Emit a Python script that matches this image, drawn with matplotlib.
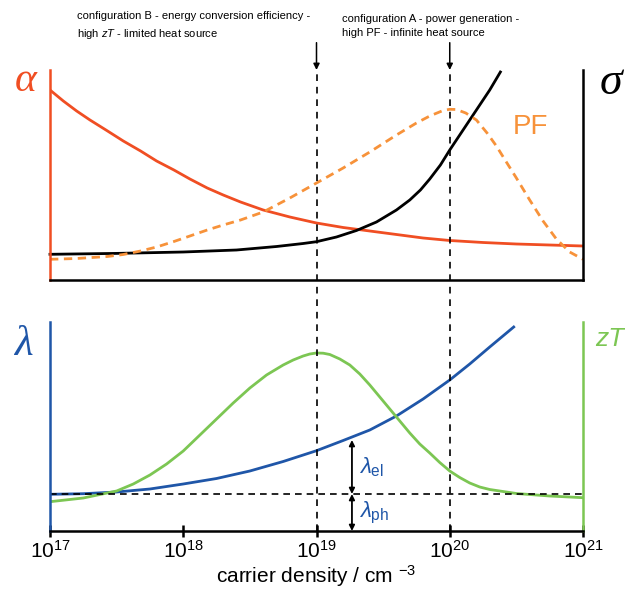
import matplotlib
matplotlib.use("Agg")
import matplotlib.pyplot as plt
import numpy as np

plt.rcParams['font.family'] = ['Liberation Sans', 'DejaVu Sans']
plt.rcParams['mathtext.fontset'] = 'custom'
plt.rcParams['mathtext.rm'] = 'Liberation Sans'
plt.rcParams['mathtext.it'] = 'Liberation Sans:italic'
plt.rcParams['mathtext.bf'] = 'Liberation Sans:bold'

# ---------------- data (log10 of carrier density, arbitrary units) ----------------
alpha_logn = [17.0, 17.1, 17.2, 17.3, 17.42, 17.55, 17.68, 17.8, 17.93, 18.05, 18.18, 18.3,
              18.43, 18.6, 18.8, 19.0, 19.2, 19.4, 19.6, 19.8, 20.0, 20.25, 20.5, 20.75, 21.0]
alpha_val = [190, 179, 169, 160, 150, 139, 129, 119, 110, 101, 92, 85,
             78, 70, 63, 57, 52.5, 49, 45.5, 42, 39.5, 37.5, 36, 35, 34]

sigma_logn = [17.0, 17.5, 18.0, 18.4, 18.7, 18.9, 19.0, 19.15, 19.3, 19.45, 19.6, 19.7,
              19.78, 19.85, 19.93, 20.0, 20.1, 20.2, 20.3, 20.38]
sigma_val = [25.7, 26.6, 28, 30, 33.5, 36.5, 38.3, 43, 49.5, 58, 70, 80,
             90, 101, 115, 130, 150, 170, 190, 208]

pf_logn = [17.0, 17.2, 17.43, 17.55, 17.68, 17.8, 17.93, 18.05, 18.18, 18.3, 18.43, 18.6,
           18.8, 19.0, 19.2, 19.4, 19.6, 19.75, 19.85, 19.95, 20.0, 20.05, 20.12, 20.2,
           20.28, 20.35, 20.42, 20.5, 20.6, 20.7, 20.8, 20.9, 21.0]
pf_val = [20.7, 21.5, 23.5, 25.5, 29, 33, 38.5, 44, 50, 55, 60, 68,
          82, 97, 112, 128, 145, 157, 164, 169.5, 170.7, 170.5, 167, 160,
          147, 134, 119, 102, 80, 59, 41, 28, 20.7]

lam_logn = [17.0, 17.25, 17.5, 17.75, 18.0, 18.25, 18.5, 18.75, 19.0, 19.2, 19.4, 19.6,
            19.8, 20.0, 20.15, 20.3, 20.48]
lam_val = [36.7, 37.3, 39, 42, 47, 52.5, 60, 69.5, 80.3, 90.5, 101, 115,
           132, 151, 167, 184, 204]

zt_logn = [17.0, 17.25, 17.5, 17.625, 17.75, 17.875, 18.0, 18.125, 18.25, 18.375, 18.5,
           18.625, 18.75, 18.825, 18.9, 18.95, 19.0, 19.05, 19.1, 19.175, 19.25, 19.325,
           19.4, 19.475, 19.55, 19.625, 19.7, 19.775, 19.85, 19.925, 20.0, 20.075, 20.15,
           20.225, 20.3, 20.5, 20.75, 21.0]
zt_val = [29.3, 33, 40, 47, 56, 67, 80, 96, 112, 128, 143,
          156, 166, 171, 175, 177, 178, 177.8, 176.5, 172, 166, 157,
          146, 134, 122, 110, 98, 87, 78, 68.5, 60, 53.5, 48,
          44, 41.5, 37.5, 35, 33.3]

lam_ph = 37          # phonon thermal conductivity level
lam_arrow_logn = 19.266
lam_el_top = 91

config_B_n = 1e19
config_A_n = 1e20
xticks = [1e17, 1e18, 1e19, 1e20, 1e21]
xtick_labels = [r'$10^{17}$', r'$10^{18}$', r'$10^{19}$', r'$10^{20}$', r'$10^{21}$']

RED = '#f04e23'
ORANGE = '#f7923a'
BLUE = '#1f56a8'
GREEN = '#7cc653'

def n(v):
    return 10 ** np.array(v)

fig = plt.figure(figsize=(6.25, 5.97), dpi=100)
W, H = 625, 597
axT = fig.add_axes([50 / W, (H - 280) / H, 533 / W, 210 / H])
axB = fig.add_axes([50 / W, (H - 531) / H, 533 / W, 209 / H])

for ax in (axT, axB):
    ax.set_xscale('log')
    ax.set_xlim(1e17, 1e21)
    ax.spines['top'].set_visible(False)
    for s in ax.spines.values():
        s.set_linewidth(1.8)
    ax.set_yticks([])
    ax.minorticks_off()

axT.set_ylim(0, 210)
axB.set_ylim(0, 209)

# ---- top panel ----
axT.spines['left'].set_color(RED)
axT.spines['right'].set_color('black')
axT.tick_params(axis='x', which='both', bottom=False, labelbottom=False)
axT.plot(n(alpha_logn), alpha_val, color=RED, lw=2, solid_joinstyle='round')
axT.plot(n(sigma_logn), sigma_val, color='black', lw=2, clip_on=False, solid_joinstyle='round')
axT.plot(n(pf_logn), pf_val, color=ORANGE, lw=2, ls=(0, (3, 2)))

axT.text(-0.045, 0.95, 'α', transform=axT.transAxes, color=RED, fontsize=30,
         family='Liberation Serif', style='italic', ha='center', va='center')
axT.text(1.052, 0.94, 'σ', transform=axT.transAxes, color='black', fontsize=33,
         family='Liberation Serif', style='italic', ha='center', va='center')
axT.text(0.902, 0.73, 'PF', transform=axT.transAxes, color=ORANGE, fontsize=20,
         ha='center', va='center')

# ---- bottom panel ----
axB.spines['left'].set_color(BLUE)
axB.spines['right'].set_color(GREEN)
axB.plot(n(lam_logn), lam_val, color=BLUE, lw=2, solid_joinstyle='round')
axB.plot(n(zt_logn), zt_val, color=GREEN, lw=2, solid_joinstyle='round')
axB.axhline(lam_ph, color='black', lw=1.2, ls=(0, (4, 3)))
axB.set_xticks(xticks)
axB.set_xticklabels(xtick_labels, fontsize=15)
axB.tick_params(axis='x', which='major', direction='inout', length=9, width=1.8, pad=2)
axB.set_xlabel(r'carrier density / cm $^{-3}$', fontsize=15, labelpad=1)

axB.text(-0.05, 0.89, 'λ', transform=axB.transAxes, color=BLUE, fontsize=31,
         family='Liberation Serif', style='italic', ha='center', va='center')
axB.text(1.05, 0.92, 'zT', transform=axB.transAxes, color=GREEN, fontsize=19,
         style='italic', ha='center', va='center')

arrow_x = 10 ** lam_arrow_logn
axB.annotate('', xy=(arrow_x, lam_ph), xytext=(arrow_x, lam_el_top),
             arrowprops=dict(arrowstyle='<|-|>', color='black', lw=1.3,
                             mutation_scale=8, shrinkA=0, shrinkB=0))
axB.annotate('', xy=(arrow_x, 0), xytext=(arrow_x, lam_ph),
             arrowprops=dict(arrowstyle='<|-|>', color='black', lw=1.3,
                             mutation_scale=8, shrinkA=0, shrinkB=0))
axB.text(arrow_x * 1.12, (lam_ph + lam_el_top) / 2, r'$\lambda_{\mathrm{el}}$',
         color=BLUE, fontsize=16, ha='left', va='center')
axB.text(arrow_x * 1.12, lam_ph / 2, r'$\lambda_{\mathrm{ph}}$',
         color=BLUE, fontsize=16, ha='left', va='center')

# ---- vertical dashed lines across both panels ----
for xv in (config_B_n, config_A_n):
    axB.axvline(xv, ymin=0, ymax=(531 - 74) / 209, color='black', lw=1.2,
                ls=(0, (4, 3.5)), clip_on=False)
    axT.annotate('', xy=(xv, 1.0), xycoords=('data', 'axes fraction'),
                 xytext=(xv, 1.13), textcoords=('data', 'axes fraction'),
                 arrowprops=dict(arrowstyle='-|>', color='black', lw=1.1,
                                 mutation_scale=9, shrinkA=0, shrinkB=0))

axT.text(0.05, 1.21, 'configuration B - energy conversion efficiency -\nhigh $zT$ - limited heat source',
         transform=axT.transAxes, fontsize=8, ha='left', va='center', linespacing=1.55)
axT.text(0.548, 1.21, 'configuration A - power generation -\nhigh PF - infinite heat source',
         transform=axT.transAxes, fontsize=8, ha='left', va='center', linespacing=1.55)

fig.savefig('out.png', dpi=100)
